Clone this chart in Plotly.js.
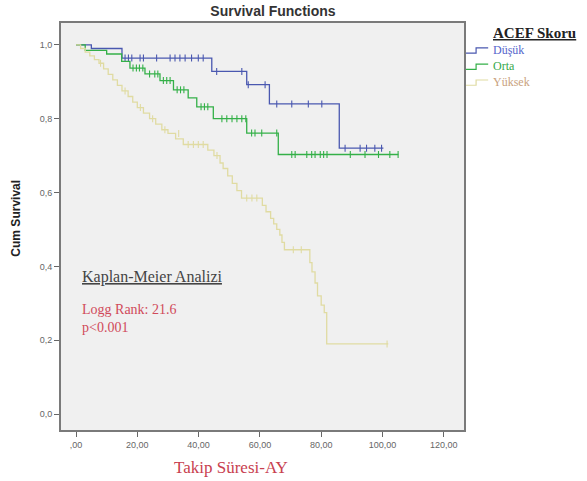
<!DOCTYPE html>
<html>
<head>
<meta charset="utf-8">
<script src="https://cdn.plot.ly/plotly-3.0.1.min.js"></script>
<style>html,body{margin:0;padding:0;background:#fff;}#chart{width:587px;height:481px;}</style>
</head>
<body>
<div id="chart"></div>
<script>
// Group names
const groupNames = ["Düşük", "Orta", "Yüksek"];

// Düşük (low) - step curve
const lowT = [0, 5, 15, 44.3, 55.7, 63.1, 85.9, 100.3];
const lowS = [1.0, 0.99, 0.964, 0.928, 0.892, 0.84, 0.72, 0.72];
const lowCensT = [16.0, 17.1, 18.2, 20.9, 22.0, 26.3, 30.7, 32.3, 33.9, 35.6, 37.7, 39.9, 41.5, 45.9, 54.1, 56.2, 61.7, 65.5, 70.4, 75.8, 80.2, 87.8, 92.7, 94.8, 97.5, 99.7];
const lowCensS = [0.964, 0.964, 0.964, 0.964, 0.964, 0.964, 0.964, 0.964, 0.964, 0.964, 0.964, 0.964, 0.964, 0.928, 0.928, 0.892, 0.892, 0.84, 0.84, 0.84, 0.84, 0.72, 0.72, 0.72, 0.72, 0.72];

// Orta (middle) - step curve
const midT = [0, 3, 10, 14.9, 17.6, 22.5, 27.4, 31.8, 36.6, 39.4, 44.8, 55.7, 66.0, 105.2];
const midS = [1.0, 0.985, 0.975, 0.955, 0.937, 0.921, 0.903, 0.878, 0.856, 0.832, 0.80, 0.761, 0.703, 0.703];
const midCensT = [18.6, 19.7, 20.7, 21.8, 24.0, 25.7, 26.7, 28.5, 29.6, 30.7, 33.0, 34.1, 35.2, 40.8, 41.9, 43.0, 47.6, 49.2, 50.9, 52.5, 54.1, 55.4, 57.3, 58.4, 60.6, 65.5, 70.4, 71.5, 75.3, 76.9, 78.0, 79.7, 80.8, 81.9, 89.5, 94.3, 98.7, 102.4, 105.1];
const midCensS = [0.937, 0.937, 0.937, 0.937, 0.921, 0.921, 0.921, 0.903, 0.903, 0.903, 0.878, 0.878, 0.878, 0.832, 0.832, 0.832, 0.80, 0.80, 0.80, 0.80, 0.80, 0.80, 0.761, 0.761, 0.761, 0.761, 0.703, 0.703, 0.703, 0.703, 0.703, 0.703, 0.703, 0.703, 0.703, 0.703, 0.703, 0.703, 0.703];

// Yüksek (high) - step curve
const highT = [0, 1.5, 3, 4.5, 6, 7.5, 9, 10.5, 12, 13.5, 15, 17, 18.5, 20, 22, 24, 26, 28, 30, 32.5, 35, 43, 45, 47, 48, 49.5, 51, 52.5, 54, 60.8, 62, 63.5, 64.5, 65.5, 66.5, 67.2, 68, 76.3, 77, 78, 78.8, 80, 81, 81.8, 101.9];
const highS = [1.0, 0.99, 0.98, 0.97, 0.96, 0.95, 0.935, 0.92, 0.905, 0.89, 0.875, 0.86, 0.845, 0.83, 0.815, 0.80, 0.785, 0.77, 0.76, 0.745, 0.73, 0.715, 0.70, 0.68, 0.665, 0.645, 0.625, 0.605, 0.585, 0.565, 0.548, 0.53, 0.515, 0.50, 0.485, 0.465, 0.445, 0.41, 0.385, 0.355, 0.32, 0.295, 0.275, 0.19, 0.19];
const highCensT = [8, 16, 21, 25, 29, 33.5, 36.6, 38.3, 39.9, 41.5, 46, 55.7, 57.4, 59.0, 70.9, 73.5, 101.5];
const highCensS = [0.95, 0.875, 0.83, 0.80, 0.77, 0.76, 0.73, 0.73, 0.73, 0.73, 0.70, 0.585, 0.585, 0.585, 0.445, 0.445, 0.19];

// Axis ticks
const xTickVals = [0, 20, 40, 60, 80, 100, 120];
const xTickText = [",00", "20,00", "40,00", "60,00", "80,00", "100,00", "120,00"];
const yTickVals = [0, 0.2, 0.4, 0.6, 0.8, 1.0];
const yTickText = ["0,0", "0,2", "0,4", "0,6", "0,8", "1,0"];

const colors = ["#4a58b0", "#34b048", "#e0dba2"];
const textColors = ["#5566cc", "#36a84a", "#c9a27e"];

function stepTrace(t, s, i) {
  return {
    x: t, y: s, type: "scatter", mode: "lines",
    line: {shape: "hv", color: colors[i], width: 1.3},
    name: groupNames[i], showlegend: false, hoverinfo: "skip"
  };
}
function censTrace(t, s, i) {
  return {
    x: t, y: s, type: "scatter", mode: "markers",
    marker: {symbol: "line-ns-open", size: 5, color: colors[i], line: {color: colors[i], width: 1.1}},
    showlegend: false, hoverinfo: "skip"
  };
}

const data = [
  stepTrace(lowT, lowS, 0), censTrace(lowCensT, lowCensS, 0),
  stepTrace(midT, midS, 1), censTrace(midCensT, midCensS, 1),
  stepTrace(highT, highS, 2), censTrace(highCensT, highCensS, 2)
];

// legend (drawn as annotations + small step icons)
const legY = [0.934, 0.894, 0.855];
const legendAnn = groupNames.map((n, i) => ({
  text: n, xref: "paper", yref: "paper", x: 1.067, y: legY[i], xanchor: "left", yanchor: "middle",
  showarrow: false, font: {family: "Liberation Serif, Times New Roman, serif", size: 12, color: textColors[i]}
}));
const legendShapes = groupNames.map((n, i) => ({
  type: "path", xref: "paper", yref: "paper",
  path: "M 1.005," + (legY[i] - 0.008) + " H 1.030 V " + (legY[i] + 0.005) + " H 1.060",
  line: {color: colors[i], width: 1.2}
}));

const layout = {
  width: 587, height: 481,
  margin: {l: 61, r: 123, t: 23, b: 51},
  paper_bgcolor: "#ffffff",
  plot_bgcolor: "#f0f0f0",
  showlegend: false,
  title: {text: "<b>Survival Functions</b>", font: {family: "Liberation Sans, Arial, sans-serif", size: 14, color: "#333"}, x: 0.465, xanchor: "center", y: 0.988, yanchor: "top"},
  xaxis: {
    range: [-4.9, 126.6], tickvals: xTickVals, ticktext: xTickText,
    showgrid: false, zeroline: false, showline: true, mirror: true,
    linecolor: "#7a7a7a", linewidth: 2, ticks: "outside", ticklen: 5, tickcolor: "#666",
    tickfont: {family: "Liberation Sans, Arial, sans-serif", size: 9, color: "#666"}
  },
  yaxis: {
    range: [-0.043, 1.059], tickvals: yTickVals, ticktext: yTickText,
    showgrid: false, zeroline: false, showline: true, mirror: true,
    linecolor: "#7a7a7a", linewidth: 2, ticks: "outside", ticklen: 5, tickcolor: "#666",
    tickfont: {family: "Liberation Sans, Arial, sans-serif", size: 9, color: "#666"}
  },
  shapes: legendShapes,
  annotations: [
    {text: "<b><u>ACEF Skoru</u></b>", xref: "paper", yref: "paper", x: 1.067, y: 0.975, xanchor: "left", yanchor: "middle", showarrow: false, font: {family: "Liberation Serif, Times New Roman, serif", size: 15, color: "#222"}},
    {text: "<b>Cum Survival</b>", xref: "paper", yref: "paper", x: -0.111, y: 0.52, xanchor: "center", yanchor: "middle", textangle: -90, showarrow: false, font: {family: "Liberation Sans, Arial, sans-serif", size: 12, color: "#222"}},
    {text: "Takip Süresi-AY", xref: "paper", yref: "paper", x: 0.422, y: -0.093, xanchor: "center", yanchor: "middle", showarrow: false, font: {family: "Liberation Serif, Times New Roman, serif", size: 17, color: "#c8404f"}},
    {text: "<u>Kaplan-Meier Analizi</u>", xref: "paper", yref: "paper", x: 0.048, y: 0.376, xanchor: "left", yanchor: "middle", showarrow: false, font: {family: "Liberation Serif, Times New Roman, serif", size: 16, color: "#444"}},
    {text: "Logg Rank: 21.6<br>p<0.001", xref: "paper", yref: "paper", x: 0.048, y: 0.273, xanchor: "left", yanchor: "middle", align: "left", showarrow: false, font: {family: "Liberation Serif, Times New Roman, serif", size: 14, color: "#d04a5a"}}
  ].concat(legendAnn)
};

Plotly.newPlot("chart", data, layout, {displayModeBar: false, staticPlot: true});
</script>
</body>
</html>
